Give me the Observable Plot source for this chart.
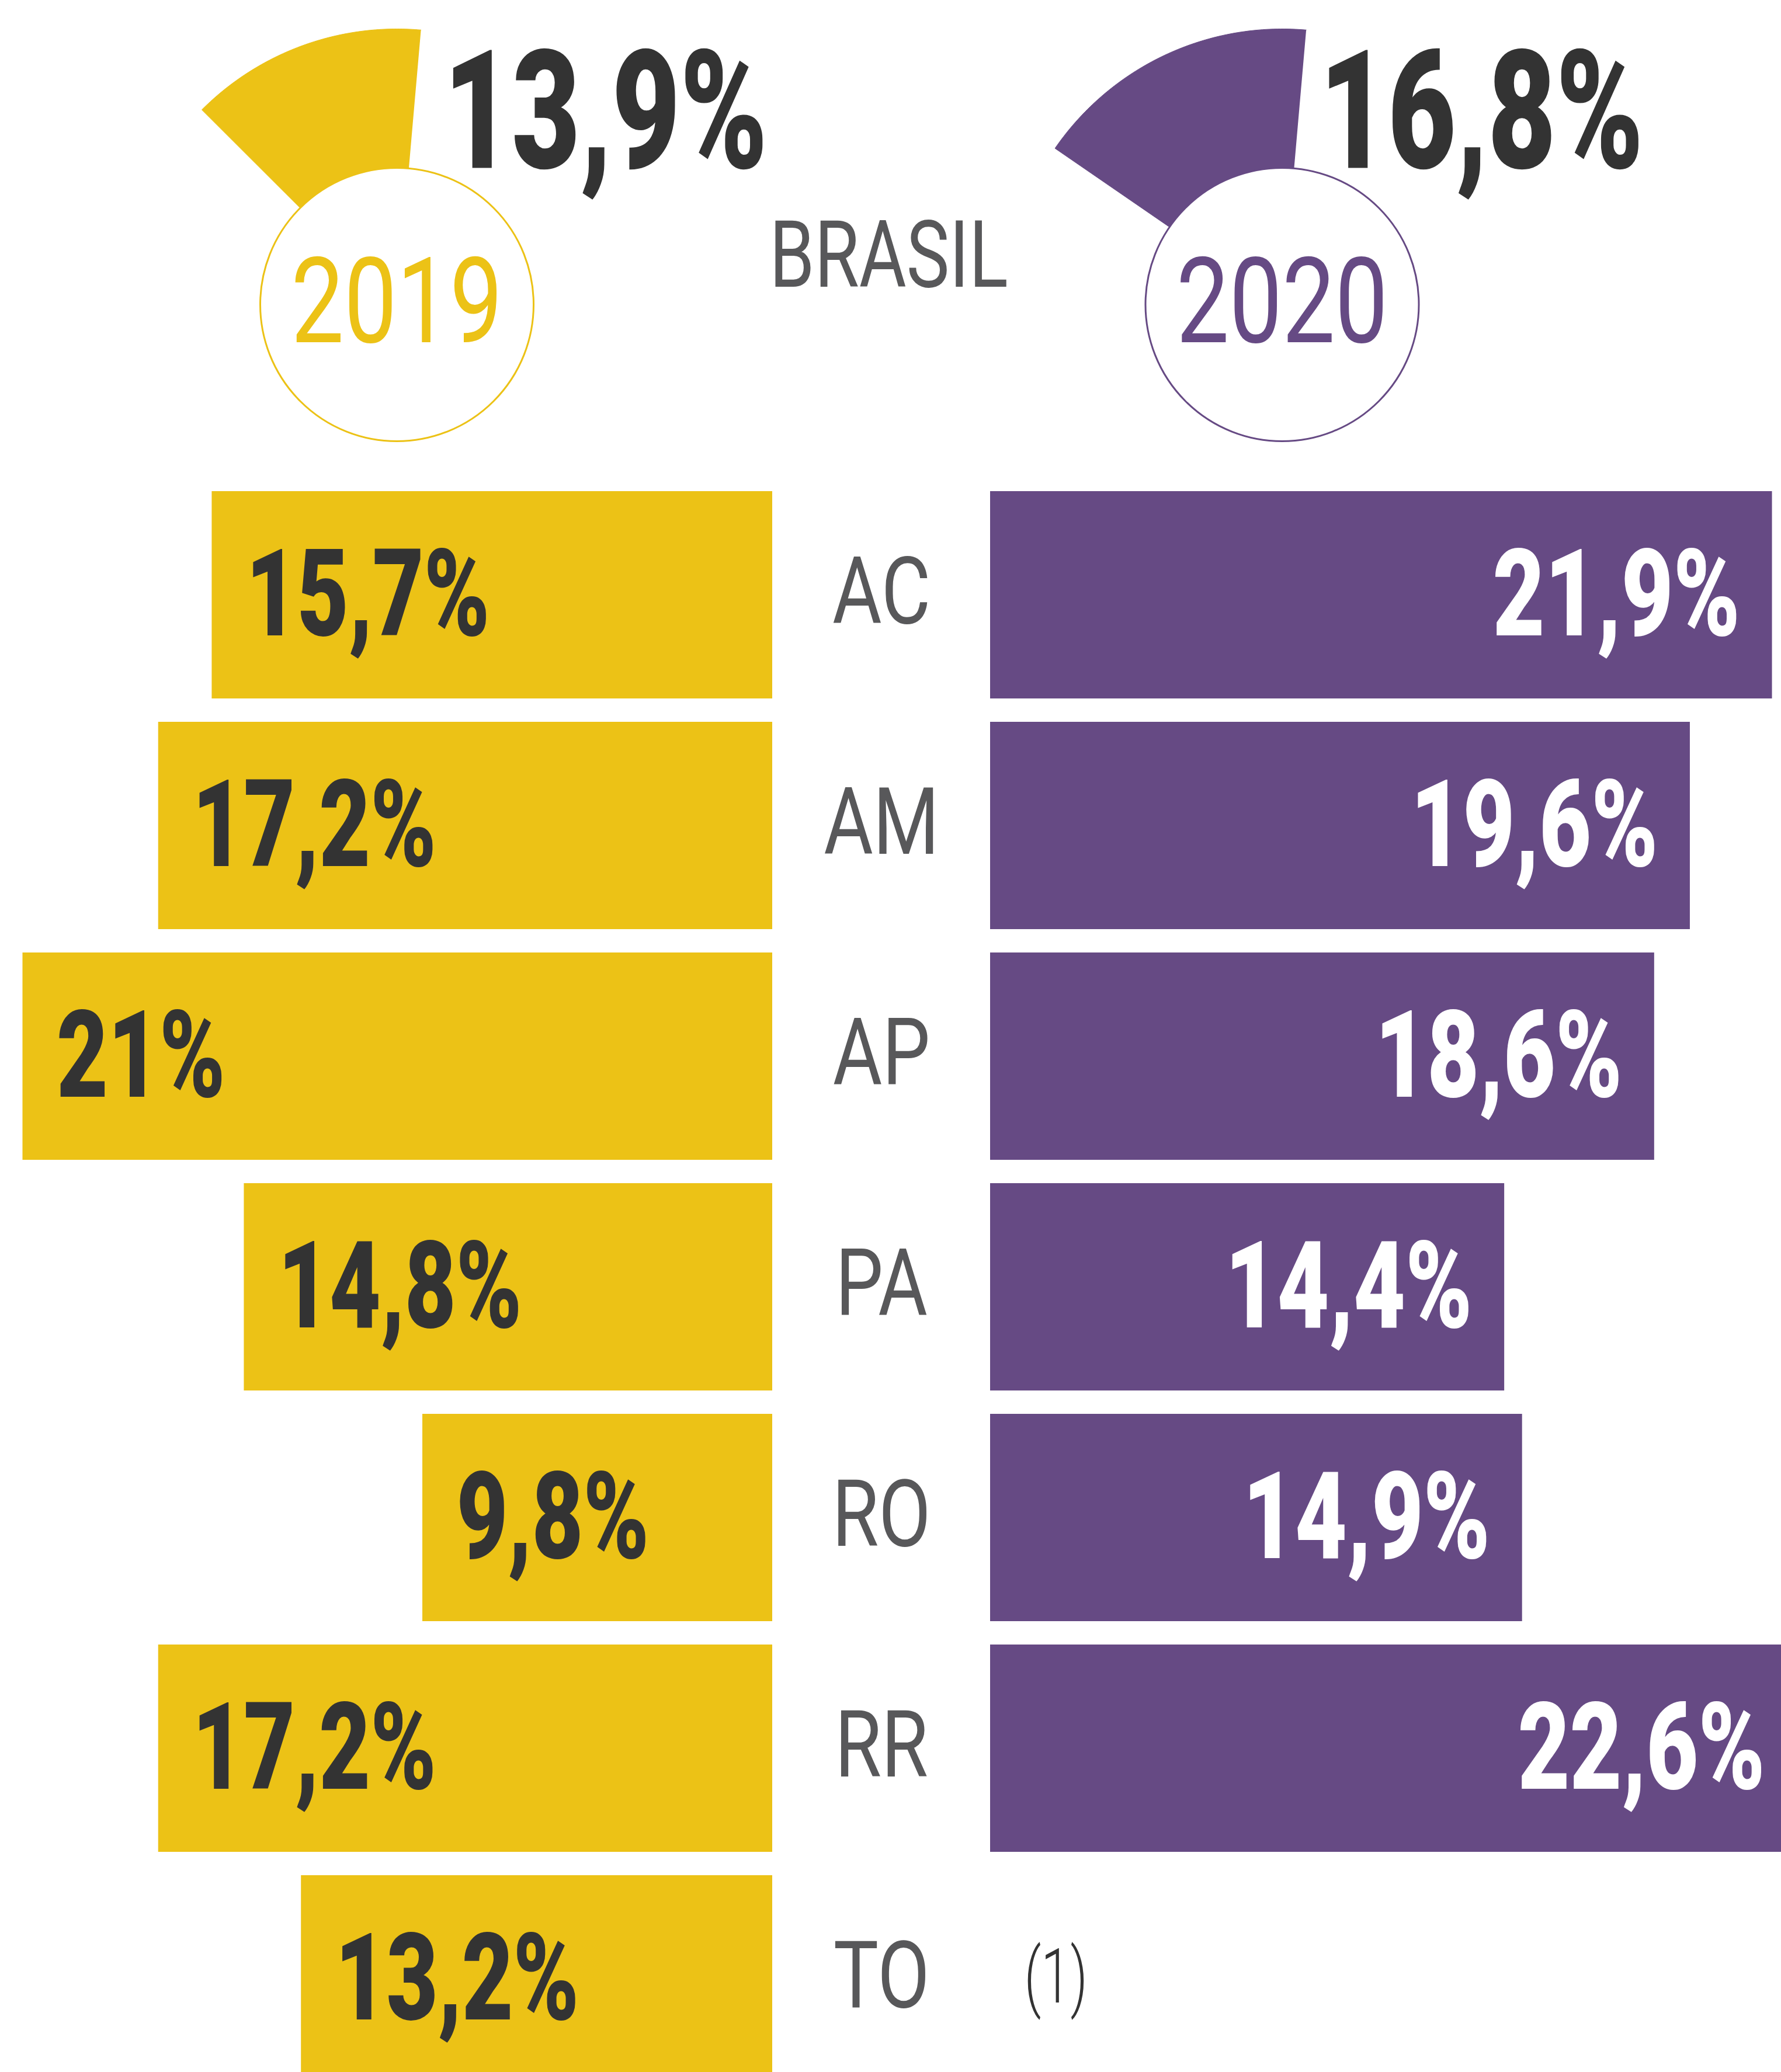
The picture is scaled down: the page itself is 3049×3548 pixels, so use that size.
<!DOCTYPE html>
<html><head><meta charset="utf-8">
<script src="https://cdn.jsdelivr.net/npm/d3@7"></script>
<script src="https://cdn.jsdelivr.net/npm/@observablehq/plot@0.6"></script>
<style>
html,body{margin:0;padding:0;background:#fff;overflow:hidden;}
#chart{width:3049px;height:3548px;overflow:hidden;}
#chart svg{display:block;max-width:none;}
</style></head><body><div id="chart"></div>
<script>
// ---- data ----
const states = ["AC", "AM", "AP", "PA", "RO", "RR", "TO"];
const values2019 = [15.7, 17.2, 21, 14.8, 9.8, 17.2, 13.2];
const values2020 = [21.9, 19.6, 18.6, 14.4, 14.9, 22.6, null];
const notes2020 = [null, null, null, null, null, null, "(1)"];
const years = ["2019", "2020"];
const brasil = [13.9, 16.8];
const brasilLabel = "BRASIL";

// ---- style / layout ----
const YELLOW = "#ECC216", PURPLE = "#664A84", DARK = "#333333", GREY = "#58585A";
const W = 3049, H = 3548, HEAD = 800;
const PX_PER_PCT = 61.12, CENTER = 1508.5, HALF_GAP = 186.5 / PX_PER_PCT;
const CX = [679, 2194.5], CY = 521, R_IN = 234, R_OUT = 472, NUM_OFF = [80, 64];
const FONT = "Roboto, 'Liberation Sans', sans-serif";

const fmt = v => String(v).replace(".", ",") + "%";

const rows19 = states.map((s, i) => ({state: s, v: values2019[i]}));
const rows20 = states.map((s, i) => ({state: s, v: values2020[i], note: notes2020[i]}));
const yearRows = years.map((y, i) => ({year: y, p: brasil[i], cx: CX[i], off: NUM_OFF[i]}));

function wedge(d) {
  const end = 5, start = end - d.p * 3.6, n = 80, pts = [{x: d.cx, y: CY}];
  for (let k = 0; k <= n; k++) {
    const a = (start + (end - start) * k / n) * Math.PI / 180;
    pts.push({x: d.cx + R_OUT * Math.sin(a), y: CY - R_OUT * Math.cos(a)});
  }
  return pts;
}

// condense the text marks horizontally (no condensed font installed); scales listed in mark order
function squeeze(svg, scales) {
  const groups = svg.querySelectorAll(':scope > g[aria-label="text"]');
  groups.forEach((g, i) => {
    const s = scales[i];
    if (s == null) return;
    g.querySelectorAll("text").forEach(t =>
      t.setAttribute("transform", (t.getAttribute("transform") || "") + ` scale(${s},1)`));
  });
}

// ---- header ----
const header = Plot.plot({
  width: W, height: HEAD, margin: 0,
  x: {type: "identity", axis: null}, y: {type: "identity", axis: null},
  color: {domain: years, range: [YELLOW, PURPLE]},
  marks: [
    ...yearRows.map((d, i) => Plot.line(wedge(d), {x: "x", y: "y", fill: [YELLOW, PURPLE][i], stroke: [YELLOW, PURPLE][i], strokeWidth: 1})),
    Plot.dot(yearRows, {x: "cx", y: () => CY, r: R_IN, fill: "white", stroke: "year", strokeWidth: 3}),
    Plot.text(yearRows, {x: "cx", y: () => CY, text: "year", fill: "year", fontSize: 204, fontFamily: FONT, fontWeight: 400,
      textAnchor: "middle", lineAnchor: "bottom", dy: 64}),
    Plot.text(yearRows, {x: d => d.cx + d.off, y: () => CY - R_IN, text: d => fmt(d.p), fill: DARK, fontSize: 284,
      fontFamily: FONT, fontWeight: 900, textAnchor: "start", lineAnchor: "bottom"}),
    Plot.text([brasilLabel], {x: () => 1521, y: () => 490, text: d => d, fill: GREY, fontSize: 159, fontFamily: FONT,
      fontWeight: 400, textAnchor: "middle", lineAnchor: "bottom"})
  ]
});
squeeze(header, [0.79, 0.71, 0.78]);

// ---- bars ----
const bars = Plot.plot({
  width: W, height: H - HEAD, margin: 0,
  x: {domain: [-CENTER / PX_PER_PCT, (W - CENTER) / PX_PER_PCT], range: [0, W], axis: null},
  y: {domain: states, range: [41, 2766], paddingInner: 40 / 395, paddingOuter: 0, axis: null},
  marks: [
    Plot.barX(rows19, {x1: d => -HALF_GAP - d.v, x2: () => -HALF_GAP, y: "state", fill: YELLOW}),
    Plot.barX(rows20.filter(d => d.v != null), {x1: () => HALF_GAP, x2: d => HALF_GAP + d.v, y: "state", fill: PURPLE}),
    Plot.ruleX(rows20.filter(d => d.v == null), {x: () => HALF_GAP, y: "state", stroke: "#E4E3EE", strokeWidth: 2}),
    Plot.text(rows19, {x: d => -HALF_GAP - d.v, y: "state", text: d => fmt(d.v), fill: DARK, fontSize: 208,
      fontFamily: FONT, fontWeight: 900, textAnchor: "start", lineAnchor: "bottom", dx: 58, dy: 69}),
    Plot.text(rows20.filter(d => d.v != null), {x: d => HALF_GAP + d.v, y: "state", text: d => fmt(d.v), fill: "white",
      fontSize: 208, fontFamily: FONT, fontWeight: 900, textAnchor: "end", lineAnchor: "bottom", dx: -55, dy: 69}),
    Plot.text(rows20.filter(d => d.note), {x: () => HALF_GAP, y: "state", text: "note", fill: DARK, fontSize: 129,
      fontFamily: FONT, fontWeight: 300, textAnchor: "start", lineAnchor: "bottom", dx: 58, dy: 40}),
    Plot.text(states, {x: () => 0, y: d => d, text: d => d, fill: GREY, fontSize: 160, fontFamily: FONT, fontWeight: 400,
      textAnchor: "middle", lineAnchor: "bottom", dy: 48})
  ]
});
squeeze(bars, [0.73, 0.74, 0.70, 0.81]);

const root = document.getElementById("chart");
root.appendChild(header);
root.appendChild(bars);
</script></body></html>
